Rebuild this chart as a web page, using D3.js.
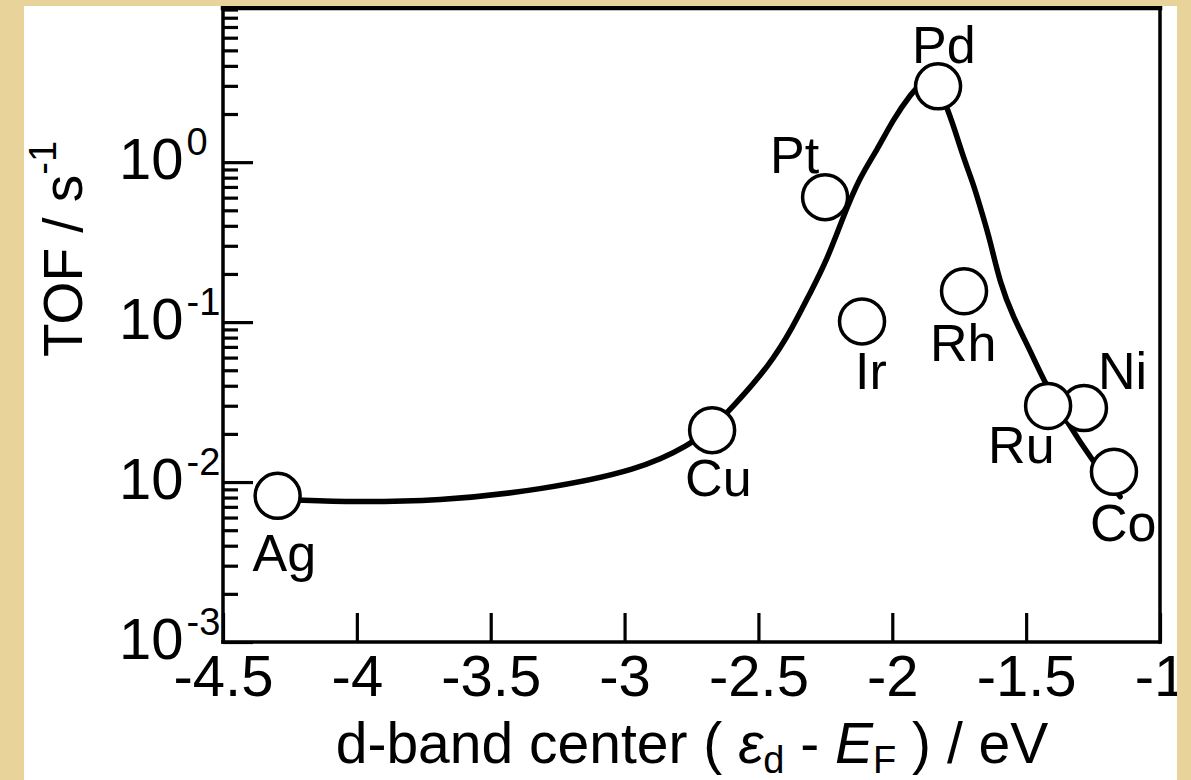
<!DOCTYPE html>
<html>
<head>
<meta charset="utf-8">
<script src="https://cdn.jsdelivr.net/npm/d3@7"></script>
<style>
  html, body { margin: 0; padding: 0; background: #e8d49e; }
  svg { display: block; font-family: "Liberation Sans", Arial, Helvetica, sans-serif; }
</style>
</head>
<body>
<div id="chart"></div>
<script>
// --- data ---
const metals = ["Ag", "Cu", "Pt", "Ir", "Pd", "Rh", "Ni", "Ru", "Co"];
const dBandCenter = [-4.296, -2.673, -2.251, -2.113, -1.829, -1.732, -1.284, -1.418, -1.172];
const tof = [0.0082, 0.0211, 0.604, 0.101, 2.98, 0.156, 0.029, 0.0299, 0.0116];

// guide-to-the-eye curve (volcano)
const curveX = [-4.295, -4.063, -3.689, -3.316, -2.942, -2.756, -2.673, -2.599, -2.457, -2.371,
  -2.307, -2.244, -2.181, -2.121, -2.057, -1.997, -1.934, -1.859, -1.792, -1.736,
  -1.698, -1.665, -1.635, -1.598, -1.549, -1.486, -1.430, -1.336, -1.261, -1.149];
const curveY = [0.0078, 0.0075, 0.0076, 0.0089, 0.0119, 0.0171, 0.0218, 0.0290, 0.0539, 0.0932,
  0.152, 0.244, 0.467, 0.808, 1.19, 1.84, 2.63, 3.66, 2.21, 1.08,
  0.741, 0.481, 0.326, 0.176, 0.108, 0.067, 0.0416, 0.0221, 0.0143, 0.0081];

const xTicks = [-4.5, -4, -3.5, -3, -2.5, -2, -1.5, -1];
const xTickLabels = ["-4.5", "-4", "-3.5", "-3", "-2.5", "-2", "-1.5", "-1"];
const yExponents = [-3, -2, -1, 0];
const yExponentLabels = ["-3", "-2", "-1", "0"];

// label placement relative to each marker (px)
const labelOffset = {
  Ag: [-25, 75], Cu: [-27, 66], Pt: [-55, -24], Ir: [-7, 68], Pd: [-26, -23],
  Rh: [-34, 70], Ni: [14, -19], Ru: [-60, 57], Co: [-24, 69]
};

document.addEventListener("DOMContentLoaded", () => {
  const W = 1191, H = 780;
  const plot = { left: 223, right: 1160, top: 8, bottom: 642 };
  const panel = { x: 24, y: 6, w: 1153, h: 774 };

  const svg = d3.select("#chart").append("svg").attr("width", W).attr("height", H);

  // beige frame + white panel
  svg.append("rect").attr("width", W).attr("height", H).attr("fill", "#e8d39b");
  svg.append("defs").append("clipPath").attr("id", "panel-clip")
    .append("rect").attr("x", panel.x).attr("y", panel.y).attr("width", panel.w).attr("height", panel.h);
  svg.append("rect").attr("x", panel.x).attr("y", panel.y).attr("width", panel.w).attr("height", panel.h)
    .attr("fill", "#fff");

  const g = svg.append("g").attr("clip-path", "url(#panel-clip)");

  const x = d3.scaleLinear().domain([-4.5, -1]).range([plot.left, plot.right]);
  const y = d3.scaleLog().domain([1e-3, 9.2]).range([plot.bottom, plot.top]);

  // --- x axis (ticks point inward) ---
  const xAxis = d3.axisBottom(x)
    .tickValues(xTicks)
    .tickSizeInner(-29)
    .tickSizeOuter(0)
    .tickPadding(13)
    .tickFormat((d, i) => xTickLabels[i]);

  const gx = g.append("g").attr("transform", `translate(0,${plot.bottom})`).call(xAxis);
  gx.select(".domain").remove();
  gx.selectAll(".tick line").attr("stroke", "#000").attr("stroke-width", 3.2);
  gx.selectAll(".tick text").attr("fill", "#000").attr("font-size", 58).attr("font-family", null);

  // --- y axis (log, major + minor) ---
  const yMajor = yExponents.map(e => Math.pow(10, e));
  const yMinor = yMajor.flatMap(p => d3.range(2, 10).map(m => m * p)).filter(v => v <= y.domain()[1]);

  const yAxis = d3.axisLeft(y)
    .tickValues(yMinor.concat(yMajor))
    .tickSizeInner(-15)
    .tickSizeOuter(0)
    .tickFormat("");

  const gy = g.append("g").attr("transform", `translate(${plot.left},0)`).call(yAxis);
  gy.select(".domain").remove();
  gy.selectAll(".tick line").attr("stroke", "#000").attr("stroke-width", 3.2);
  gy.selectAll(".tick").filter(d => yMajor.includes(d)).select("line").attr("x2", 30);

  const yLabels = g.append("g").selectAll("text")
    .data(yExponents)
    .enter()
    .append("text")
    .attr("x", 119)
    .attr("y", d => y(Math.pow(10, d)) + 17)
    .attr("font-size", 58);
  yLabels.append("tspan").text("10");
  yLabels.append("tspan")
    .attr("font-size", 38)
    .attr("dx", 3)
    .attr("dy", -24)
    .text((d, i) => yExponentLabels[i]);

  // --- frame ---
  const frame = g.append("g").attr("stroke", "#000").attr("stroke-linecap", "square");
  frame.append("line").attr("x1", plot.left).attr("y1", plot.top).attr("x2", plot.left).attr("y2", plot.bottom).attr("stroke-width", 3.5);
  frame.append("line").attr("x1", plot.left).attr("y1", plot.bottom).attr("x2", plot.right).attr("y2", plot.bottom).attr("stroke-width", 3.5);
  frame.append("line").attr("x1", plot.right).attr("y1", plot.top).attr("x2", plot.right).attr("y2", plot.bottom).attr("stroke-width", 3.5);
  frame.append("line").attr("x1", plot.left).attr("y1", plot.top).attr("x2", plot.right).attr("y2", plot.top).attr("stroke-width", 4.5);

  // --- volcano curve ---
  const curvePts = curveX.map((cx, i) => [cx, curveY[i]]);
  const line = d3.line()
    .x(d => x(d[0]))
    .y(d => y(d[1]))
    .curve(d3.curveBasis);

  g.append("path")
    .datum(curvePts)
    .attr("d", line)
    .attr("fill", "none")
    .attr("stroke", "#000")
    .attr("stroke-width", 5.5)
    .attr("stroke-linecap", "round");

  // --- markers ---
  const pts = metals.map((m, i) => ({ name: m, x: dBandCenter[i], y: tof[i] }));

  g.selectAll("circle.metal")
    .data(pts)
    .enter()
    .append("circle")
    .attr("class", "metal")
    .attr("cx", d => x(d.x))
    .attr("cy", d => y(d.y))
    .attr("r", 22.5)
    .attr("fill", "#fff")
    .attr("stroke", "#000")
    .attr("stroke-width", 3.5);

  g.selectAll("text.metal-label")
    .data(pts)
    .enter()
    .append("text")
    .attr("class", "metal-label")
    .attr("x", d => x(d.x) + labelOffset[d.name][0])
    .attr("y", d => y(d.y) + labelOffset[d.name][1])
    .attr("font-size", 52)
    .text(d => d.name);

  // --- axis titles ---
  const xTitle = g.append("text")
    .attr("x", 692)
    .attr("y", 763)
    .attr("text-anchor", "middle")
    .attr("font-size", 57);
  xTitle.append("tspan").text("d-band center ( ");
  xTitle.append("tspan").attr("font-style", "italic").text("\u03B5");
  xTitle.append("tspan").attr("font-size", 38).attr("dy", 10).text("d");
  xTitle.append("tspan").attr("dy", -10).text(" - ");
  xTitle.append("tspan").attr("font-style", "italic").text("E");
  xTitle.append("tspan").attr("font-size", 38).attr("dy", 10).text("F");
  xTitle.append("tspan").attr("dy", -10).text(" ) / eV");

  const yTitle = g.append("text")
    .attr("transform", "translate(82,357) rotate(-90)")
    .attr("font-size", 55);
  yTitle.append("tspan").text("TOF / s");
  yTitle.append("tspan").attr("font-size", 38).attr("dy", -26).text("-1");
});
</script>
</body>
</html>
